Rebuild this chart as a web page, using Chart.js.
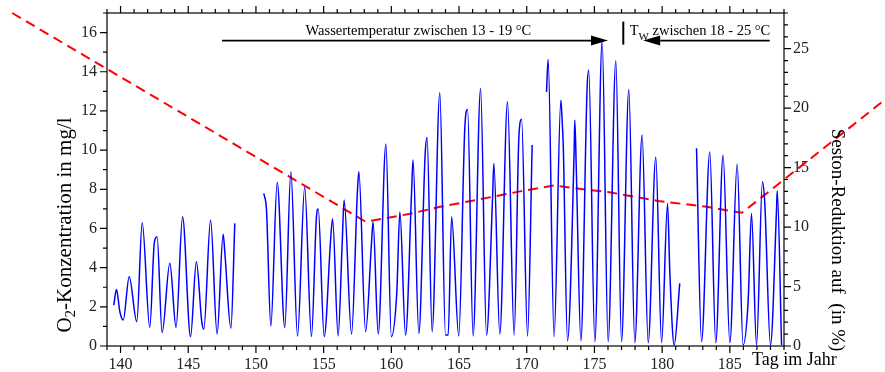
<!DOCTYPE html>
<html>
<head>
<meta charset="utf-8">
<script src="https://cdn.jsdelivr.net/npm/chart.js@4.4.1/dist/chart.umd.min.js"></script>
<style>
    html, body { margin: 0; padding: 0; background: #fff; }
    #chart { display: block; }
</style>
</head>
<body>
<canvas id="chart" width="885" height="372"></canvas>
<script>
const o2Days = [
    139.5, 139.7, 139.95, 140.2, 140.64, 141.2, 141.6, 142.16, 142.5, 142.7,
    143.07, 143.64, 144.1, 144.58, 145.17, 145.6, 146.0, 146.15, 146.65, 147.13,
    147.58, 147.7, 148.15, 148.44, 149.5,
    150.58, 150.78, 151.1, 151.57, 152.13, 152.58, 153.07, 153.6, 154.1, 154.47,
    154.6, 155.04, 155.53, 155.66, 156.07, 156.37, 156.51, 157.06, 157.5, 157.6,
    158.1, 158.54, 158.65, 159.03, 159.6, 160.0, 160.4, 160.63, 161.05, 161.5,
    161.6, 162.03, 162.5, 162.64, 163.01, 163.58, 164.0, 164.2, 164.45, 164.98,
    165.43, 165.63, 166.04, 166.59, 167.03, 167.47, 167.57, 168.01, 168.58, 169.07,
    169.42, 169.62, 170.06, 170.4, 170.9,
    171.46, 171.58, 172.02, 172.52, 172.6, 172.7, 173.01, 173.5, 173.55, 173.65,
    174.0, 174.46, 174.58, 175.03, 175.57, 176.01, 176.58, 177.0, 177.54, 177.98,
    178.52, 178.97, 179.53, 179.96, 180.4, 180.57, 180.89, 181.3, 182.0,
    182.54, 182.91, 183.52, 183.96, 184.5, 185.0, 185.54, 185.98, 186.35, 186.6,
    186.97, 187.41, 187.58, 188.0, 188.45, 188.5, 188.82
];
const o2Vals = [
    2.09, 2.89, 1.75, 1.33, 3.54, 1.24, 6.29, 0.95, 5.3, 5.58,
    0.68, 4.22, 0.95, 6.6, 0.48, 4.3, 1.24, 0.85, 6.43, 0.61,
    5.71, 4.8, 0.9, 6.26, null,
    7.79, 6.94, 1.02, 8.35, 0.95, 8.89, 0.51, 8.1, 0.48, 6.6,
    6.99, 0.48, 5.58, 6.5, 0.51, 5.24, 7.45, 0.61, 7.96, 8.9,
    0.73, 5.32, 6.34, 0.61, 10.31, 0.48, 2.69, 6.85, 0.56, 7.96,
    9.49, 0.65, 9.83, 10.65, 0.73, 12.93, 0.56, 0.56, 6.6, 0.51,
    11.19, 12.07, 0.51, 13.15, 0.56, 7.45, 9.32, 0.61, 12.47, 0.56,
    10.68, 11.57, 0.51, 10.26, null,
    12.97, 14.63, 0.48, 12.55, 11.7, 10.17, 0.27, 9.91, 11.53, 9.32,
    0.27, 13.2, 14.08, 0.22, 15.58, 0.22, 14.56, 0.22, 13.1, 0.17,
    10.77, 0.17, 9.63, 0.17, 7.28, 3.71, 0.05, 3.2, null,
    10.09, 0.22, 9.91, 0.17, 9.74, 0.17, 9.29, 0.05, 2.26, 6.77,
    0.05, 8.38, 7.28, 0.05, 7.0, 7.92, 0.05
];

// Seston reduction (right axis, %)
const sestonDays = [132.0, 158.1, 161.3, 163.6, 166.6, 169.5, 172.0, 174.0, 176.0, 179.7, 183.3, 185.9, 198.0];
const sestonVals = [28.0, 10.45, 11.1, 11.7, 12.35, 13.0, 13.5, 13.2, 12.95, 12.2, 11.7, 11.2, 22.1];

const xTicks = [140, 145, 150, 155, 160, 165, 170, 175, 180, 185];
const o2Ticks = [0, 2, 4, 6, 8, 10, 12, 14, 16];
const sestonTicks = [0, 5, 10, 15, 20, 25];

// temperature ranges marked at the top (day of year)
const range1 = [147.5, 176.0];
const range2 = [187.95, 178.6];
const rangeSplit = 177.13;
const arrowLevel = 15.59;

const serif = '"Liberation Serif", "Times New Roman", serif';

const framePlugin = {
    id: 'frame',
    afterDraw(chart) {
        const ctx = chart.ctx;
        const a = chart.chartArea;
        const x = chart.scales.x, y = chart.scales.y, y2 = chart.scales.y2;
        ctx.save();
        ctx.strokeStyle = '#000';
        ctx.lineWidth = 1.2;
        ctx.strokeRect(a.left, a.top, a.right - a.left, a.bottom - a.top);

        ctx.beginPath();
        for (let d = Math.ceil(x.min); d <= x.max; d++) {
            const px = x.getPixelForValue(d);
            const len = d % 5 === 0 ? 7 : 4;
            ctx.moveTo(px, a.bottom); ctx.lineTo(px, a.bottom + len);
            ctx.moveTo(px, a.top); ctx.lineTo(px, a.top - len);
        }
        for (let v = 0; v <= y.max; v++) {
            const py = y.getPixelForValue(v);
            const len = v % 2 === 0 ? 7 : 4;
            ctx.moveTo(a.left, py); ctx.lineTo(a.left - len, py);
        }
        for (let v = 0; v <= y2.max; v++) {
            const py = y2.getPixelForValue(v);
            const len = v % 5 === 0 ? 7 : 4;
            ctx.moveTo(a.right, py); ctx.lineTo(a.right + len, py);
        }
        ctx.stroke();

        // temperature arrows
        const ay = y.getPixelForValue(arrowLevel);
        ctx.lineWidth = 1.6;
        ctx.fillStyle = '#000';
        drawArrow(ctx, x.getPixelForValue(range1[0]), x.getPixelForValue(range1[1]), ay);
        drawArrow(ctx, x.getPixelForValue(range2[0]), x.getPixelForValue(range2[1]), ay);
        const sx = x.getPixelForValue(rangeSplit);
        ctx.lineWidth = 2;
        ctx.beginPath();
        ctx.moveTo(sx, ay - 19); ctx.lineTo(sx, ay + 4);
        ctx.stroke();

        ctx.font = '14.5px ' + serif;
        ctx.textBaseline = 'alphabetic';
        ctx.textAlign = 'center';
        ctx.fillText('Wassertemperatur zwischen 13 - 19 °C', x.getPixelForValue(162.0), ay - 6);
        ctx.textAlign = 'left';
        let tx = x.getPixelForValue(177.6);
        ctx.fillText('T', tx, ay - 6);
        tx += ctx.measureText('T').width;
        ctx.font = '11px ' + serif;
        ctx.fillText('W', tx, ay - 1);
        tx += ctx.measureText('W').width;
        ctx.font = '14.5px ' + serif;
        ctx.fillText(' zwischen 18 - 25 °C', tx, ay - 6);

        // axis titles
        ctx.font = '18px ' + serif;
        ctx.fillText('Tag im Jahr', 752, 365);

        ctx.save();
        ctx.translate(70.5, 225);
        ctx.rotate(-Math.PI / 2);
        const f1 = '21px ' + serif, f2 = '15px ' + serif;
        ctx.font = f1;
        const wO = ctx.measureText('O').width;
        const wRest = ctx.measureText('-Konzentration in mg/l').width;
        ctx.font = f2;
        const w2 = ctx.measureText('2').width;
        let lx = -(wO + w2 + wRest) / 2;
        ctx.font = f1;
        ctx.fillText('O', lx, 0);
        lx += wO;
        ctx.font = f2;
        ctx.fillText('2', lx, 4);
        lx += w2;
        ctx.font = f1;
        ctx.fillText('-Konzentration in mg/l', lx, 0);
        ctx.restore();

        ctx.save();
        ctx.translate(832, 240);
        ctx.rotate(Math.PI / 2);
        ctx.font = '19px ' + serif;
        ctx.textAlign = 'center';
        ctx.fillText('Seston-Reduktion auf  (in %)', 0, 0);
        ctx.restore();

        ctx.restore();
    }
};

function drawArrow(ctx, x0, x1, yy) {
    const dir = x1 > x0 ? 1 : -1;
    const head = 17;
    ctx.beginPath();
    ctx.moveTo(x0, yy);
    ctx.lineTo(x1 - dir * head, yy);
    ctx.stroke();
    ctx.beginPath();
    ctx.moveTo(x1, yy);
    ctx.lineTo(x1 - dir * head, yy - 5);
    ctx.lineTo(x1 - dir * head, yy + 5);
    ctx.closePath();
    ctx.fill();
}

const o2Data = o2Days.map((d, i) => ({ x: d, y: o2Vals[i] }));
const sestonData = sestonDays.map((d, i) => ({ x: d, y: sestonVals[i] }));

const tickFont = { family: serif, size: 16 };

// keep chart area exactly where the frame is (no label overhang padding)
function noPad(s) {
    s.paddingTop = 0; s.paddingBottom = 0;
    s.paddingLeft = 0; s.paddingRight = 0;
}

new Chart(document.getElementById('chart').getContext('2d'), {
    type: 'line',
    data: {
        datasets: [
            {
                label: 'O2',
                data: o2Data,
                yAxisID: 'y',
                borderColor: '#0000ff',
                borderWidth: 1.5,
                pointRadius: 0,
                cubicInterpolationMode: 'monotone',
                spanGaps: false
            },
            {
                label: 'Seston',
                data: sestonData,
                yAxisID: 'y2',
                borderColor: '#ff0000',
                borderWidth: 2,
                borderDash: [10, 6],
                pointRadius: 0,
                tension: 0,
                clip: false
            }
        ]
    },
    options: {
        responsive: false,
        animation: false,
        layout: { padding: { top: 13, left: 0, right: 0, bottom: 0 } },
        plugins: { legend: { display: false }, tooltip: { enabled: false } },
        scales: {
            x: {
                type: 'linear',
                position: 'bottom',
                min: 139,
                max: 189,
                grid: { display: false, drawTicks: false },
                border: { display: false },
                afterBuildTicks: s => { s.ticks = xTicks.map(v => ({ value: v })); },
                afterFit: s => { s.height = 26; noPad(s); },
                ticks: { font: tickFont, color: '#222', padding: 9, maxRotation: 0 }
            },
            y: {
                position: 'left',
                min: 0,
                max: 17,
                grid: { display: false, drawTicks: false },
                border: { display: false },
                afterBuildTicks: s => { s.ticks = o2Ticks.map(v => ({ value: v })); },
                afterFit: s => { s.width = 107; noPad(s); },
                ticks: { font: tickFont, color: '#222', padding: 10 }
            },
            y2: {
                position: 'right',
                min: 0,
                max: 28,
                grid: { display: false, drawTicks: false },
                border: { display: false },
                afterBuildTicks: s => { s.ticks = sestonTicks.map(v => ({ value: v })); },
                afterFit: s => { s.width = 101; noPad(s); },
                ticks: { font: tickFont, color: '#222', padding: 9 }
            }
        }
    },
    plugins: [framePlugin]
});
</script>
</body>
</html>
